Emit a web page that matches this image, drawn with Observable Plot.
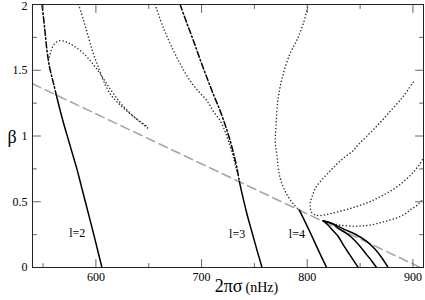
<!DOCTYPE html>
<html><head><meta charset="utf-8">
<script src="https://cdn.jsdelivr.net/npm/d3@7"></script>
<script src="https://cdn.jsdelivr.net/npm/@observablehq/plot@0.6"></script>
<style>body{margin:0;background:#fff}#chart{width:425px;height:300px}#chart svg, #chart svg text{font-family:"Liberation Serif","Times New Roman",Times,"DejaVu Serif",serif !important}</style>
</head><body><div id="chart"></div>
<script>
// ---- axes ----
const xMajor = [600, 700, 800, 900];
const xMajorLabels = ["600", "700", "800", "900"];
const xMinor = [550, 650, 750, 850];
const yMajor = [0, 0.5, 1, 1.5, 2];
const yMajorLabels = ["0", "0.5", "1", "1.5", "2"];
const yMinor = [0.25, 0.75, 1.25, 1.75];

// ---- reference dashed line ----
const refS = [540, 907];
const refB = [1.397, 0];

// ---- l=2 ----
const l2DashDotS = [549, 551.5, 553.7, 556, 558.4, 560.5, 562.5];
const l2DashDotB = [2.0, 1.82, 1.65, 1.53, 1.447, 1.38, 1.313];
const l2SolidS = [562.5, 566, 570, 574, 578, 582, 586, 590, 594, 598, 602, 605.7];
const l2SolidB = [1.313, 1.2, 1.08, 0.97, 0.86, 0.75, 0.625, 0.5, 0.375, 0.25, 0.12, 0];
const l2DotAS = [556, 558.5, 562, 566, 572, 579, 588, 597, 606, 615, 625, 637, 649];
const l2DotAB = [1.6, 1.67, 1.71, 1.725, 1.715, 1.685, 1.63, 1.55, 1.45, 1.34, 1.235, 1.14, 1.06];
const l2DotBS = [583.6, 588.3, 593, 597.7, 602.5, 607.2, 613.5, 620, 630, 640, 648];
const l2DotBB = [2.0, 1.88, 1.75, 1.625, 1.52, 1.42, 1.32, 1.26, 1.185, 1.12, 1.075];

// ---- l=3 ----
const l3DotS = [656, 664, 673.3, 681, 689.1, 697, 704.9, 711, 717.5, 722, 725.3, 730.1, 733.3];
const l3DotB = [2.0, 1.82, 1.65, 1.53, 1.42, 1.34, 1.27, 1.19, 1.117, 1.04, 0.965, 0.838, 0.736];
const l3DashDotS = [679.7, 686, 692.2, 698.5, 704.9, 711, 717.5, 722.5, 727, 730.5, 733.3, 735.7];
const l3DashDotB = [2.0, 1.86, 1.727, 1.585, 1.447, 1.32, 1.193, 1.08, 0.965, 0.86, 0.762, 0.655];
const l3SolidS = [735.7, 739.5, 743.5, 748, 752.5, 757.2];
const l3SolidB = [0.655, 0.52, 0.39, 0.26, 0.13, 0];

// ---- l=4 ----
const l4DotS = [801, 796.2, 790, 783.6, 777.3, 772.6, 770.4, 769.7, 771.1, 774.2, 780.5, 786.8, 792.4];
const l4DotB = [2.0, 1.854, 1.727, 1.625, 1.473, 1.295, 1.066, 0.95, 0.864, 0.685, 0.559, 0.483, 0.438];
const l4Solid1S = [792.4, 799, 805.7, 812, 818.3];
const l4Solid1B = [0.438, 0.33, 0.216, 0.105, 0];
const l4Solid2S = [815.1, 820, 825, 829, 835, 840, 844.5, 848.2];
const l4Solid2B = [0.356, 0.32, 0.275, 0.24, 0.16, 0.1, 0.045, 0];
const l4Solid3S = [815.1, 823, 831, 838.8, 845, 851, 856, 861, 865.6];
const l4Solid3B = [0.356, 0.335, 0.29, 0.25, 0.205, 0.15, 0.1, 0.05, 0];
const l4Solid4S = [815.1, 825, 835, 845, 856, 864, 870, 876.6];
const l4Solid4B = [0.356, 0.33, 0.29, 0.255, 0.2, 0.14, 0.08, 0];
const l4ArcS = [900.2, 890.7, 878.2, 864, 849, 843.5, 834, 826, 820, 813, 807.5, 805, 803, 802.8, 804, 807.5, 812, 822, 835.6, 847, 857.7, 867, 876.6, 886, 895.5, 902, 906.5, 909];
const l4ArcB = [1.409, 1.3, 1.185, 1.06, 0.94, 0.889, 0.83, 0.77, 0.72, 0.66, 0.6, 0.55, 0.5, 0.46, 0.42, 0.4, 0.395, 0.41, 0.437, 0.465, 0.495, 0.53, 0.571, 0.62, 0.685, 0.74, 0.787, 0.82];
const l4BowlS = [815.1, 822, 829.2, 840, 851.3, 861, 870.2, 878, 886, 893, 898.6, 903.4, 908];
const l4BowlB = [0.356, 0.34, 0.325, 0.315, 0.316, 0.325, 0.343, 0.36, 0.381, 0.41, 0.445, 0.47, 0.508];

// ---- labels ----
const modeLabels = ["l=2", "l=3", "l=4"];
const modeLabelS = [582.3, 733.6, 790.2];
const modeLabelB = [0.264, 0.25, 0.25];

const pts = (s, b) => s.map((x, i) => ({x, y: b[i]}));
const serif = "Liberation Serif, Times New Roman, serif";
const tickShape = {draw(ctx, l) { ctx.moveTo(0, 0); ctx.lineTo(0, -l); }};
const tickColor = "#666";

const dotted = {stroke: "#333", strokeWidth: 1.5, strokeDasharray: "0.1,3.3", strokeLinecap: "round", curve: "catmull-rom", clip: true};
const dashDot = {stroke: "#000", strokeWidth: 1.5, strokeDasharray: "6,2.5,1.5,2.5", curve: "catmull-rom", clip: true};
const solid = {stroke: "#000", strokeWidth: 1.5, curve: "catmull-rom", clip: true};

function ticksOn(values, ch, anchor, rotate, len) {
  return Plot.vector(values, {[ch]: d => d, frameAnchor: anchor, rotate, length: len, anchor: "start", shape: tickShape, stroke: tickColor, strokeWidth: 1});
}
const yLab = d => yMajorLabels[yMajor.indexOf(d)];
const yTop = yMajor[yMajor.length - 1];

const chart = Plot.plot({
  width: 425, height: 300,
  marginLeft: 32, marginRight: 2, marginTop: 4, marginBottom: 33,
  style: {background: "#fff", color: "#000"},
  x: {domain: [540, 910]},
  y: {domain: [0, 2]},
  marks: [
    Plot.line(pts(refS, refB), {x: "x", y: "y", stroke: "#a6a6a6", strokeWidth: 1.6, strokeDasharray: "9,5", clip: true}),
    Plot.line(pts(l2DotAS, l2DotAB), {x: "x", y: "y", ...dotted}),
    Plot.line(pts(l2DotBS, l2DotBB), {x: "x", y: "y", ...dotted}),
    Plot.line(pts(l2DashDotS, l2DashDotB), {x: "x", y: "y", ...dashDot}),
    Plot.line(pts(l2SolidS, l2SolidB), {x: "x", y: "y", ...solid}),
    Plot.line(pts(l3DotS, l3DotB), {x: "x", y: "y", ...dotted}),
    Plot.line(pts(l3DashDotS, l3DashDotB), {x: "x", y: "y", ...dashDot}),
    Plot.line(pts(l3SolidS, l3SolidB), {x: "x", y: "y", ...solid}),
    Plot.line(pts(l4DotS, l4DotB), {x: "x", y: "y", ...dotted}),
    Plot.line(pts(l4ArcS, l4ArcB), {x: "x", y: "y", ...dotted}),
    Plot.line(pts(l4BowlS, l4BowlB), {x: "x", y: "y", ...dotted}),
    Plot.line(pts(l4Solid1S, l4Solid1B), {x: "x", y: "y", ...solid}),
    Plot.line(pts(l4Solid2S, l4Solid2B), {x: "x", y: "y", ...solid}),
    Plot.line(pts(l4Solid3S, l4Solid3B), {x: "x", y: "y", ...solid}),
    Plot.line(pts(l4Solid4S, l4Solid4B), {x: "x", y: "y", ...solid}),
    Plot.text(modeLabels, {x: (d, i) => modeLabelS[i], y: (d, i) => modeLabelB[i], text: d => d, fontSize: 12, fontFamily: serif, fill: "#000"}),
    // ticks (inward, all four sides)
    ticksOn(xMajor, "x", "bottom", 0, 8),
    ticksOn(xMinor, "x", "bottom", 0, 4),
    ticksOn(xMajor, "x", "top", 180, 8),
    ticksOn(xMinor, "x", "top", 180, 4),
    ticksOn(yMajor, "y", "left", 90, 8),
    ticksOn(yMinor, "y", "left", 90, 4),
    ticksOn(yMajor, "y", "right", -90, 8),
    ticksOn(yMinor, "y", "right", -90, 4),
    Plot.frame({stroke: "#222", strokeWidth: 1}),
    Plot.axisX(xMajor, {tickSize: 0, tickPadding: 5, fontSize: 12, fontFamily: serif, label: null, tickFormat: d => xMajorLabels[xMajor.indexOf(d)]}),
    Plot.axisY(yMajor.filter(d => d !== yTop), {tickSize: 0, tickPadding: 5, fontSize: 12, fontFamily: serif, label: null, tickFormat: yLab}),
    Plot.axisY([yTop], {tickSize: 0, tickPadding: 5, fontSize: 12, fontFamily: serif, label: null, tickFormat: yLab, dy: 2}),
    Plot.text(["2πσ"], {frameAnchor: "bottom", text: d => d, textAnchor: "end", dx: 14.5, dy: 24.5, fontSize: 18, fontFamily: serif, fill: "#000"}),
    Plot.text(["(nHz)"], {frameAnchor: "bottom", text: d => d, textAnchor: "start", dx: 17.5, dy: 24.5, fontSize: 14, fontFamily: serif, fill: "#000"}),
    Plot.text(["β"], {frameAnchor: "left", text: d => d, dx: -25, dy: 1, fontSize: 18, fontFamily: serif, fill: "#000"})
  ]
});
document.getElementById("chart").appendChild(chart);
</script>
</body></html>
